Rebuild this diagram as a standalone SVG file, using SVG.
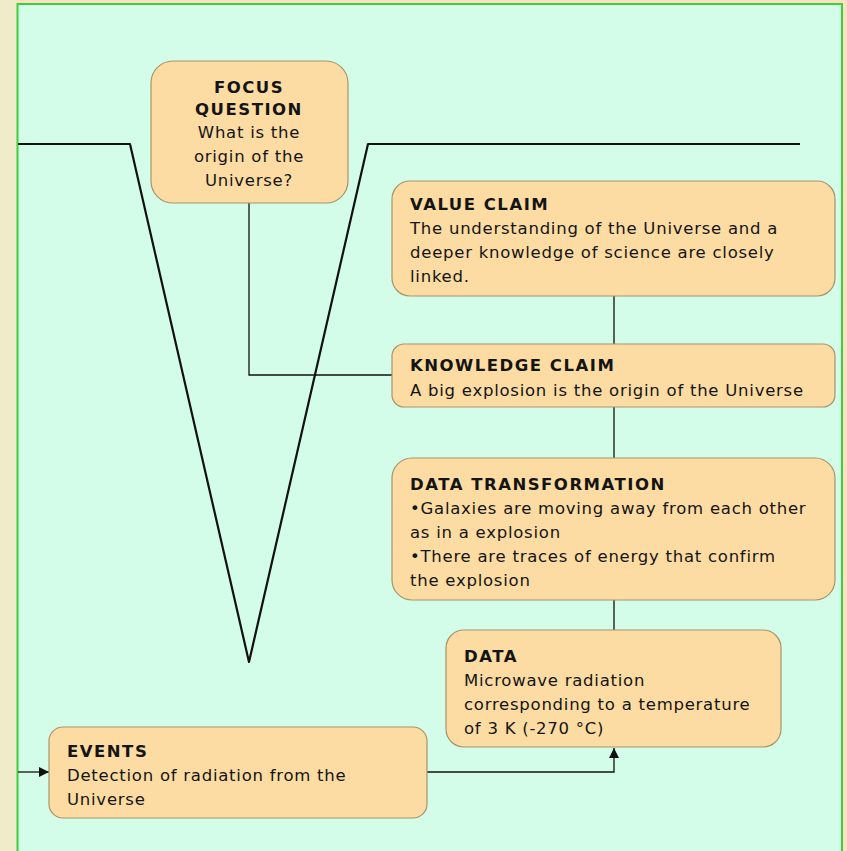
<svg xmlns="http://www.w3.org/2000/svg" width="847" height="851" viewBox="0 0 847 851">
  <defs>
    <marker id="arrow" viewBox="0 0 10 10" refX="10" refY="5" markerWidth="10" markerHeight="10" markerUnits="userSpaceOnUse" orient="auto">
      <path d="M0,0 L10,5 L0,10 z" fill="#111"/>
    </marker>
    <style>
      .node rect { fill: #fcdca2; stroke: #a8946a; stroke-width: 1.2; }
      .head { font-family: "DejaVu Sans", "Liberation Sans", sans-serif; font-weight: bold; font-size: 16.5px; letter-spacing: 1.5px; fill: #141414; }
      .body { font-family: "DejaVu Sans", "Liberation Sans", sans-serif; font-size: 16.5px; letter-spacing: 0.75px; fill: #141414; }
      .vee { fill: none; stroke: #111; stroke-width: 2.2; stroke-linejoin: round; }
      .link { fill: none; stroke: #111; stroke-width: 1.3; }
    </style>
  </defs>

  <!-- page surround -->
  <rect x="0" y="0" width="847" height="851" fill="#f0ecca"/>
  <rect x="17" y="0" width="830" height="4" fill="#fde0c0"/>
  <rect x="842" y="0" width="5" height="851" fill="#fde0c0"/>
  <!-- canvas -->
  <rect x="17.5" y="4" width="824.5" height="860" fill="#d4fde9" stroke="#3ccf3c" stroke-width="2"/>

  <!-- connectors -->
  <g id="connectors">
    <path class="vee" d="M18,144 L130,144 L249,662 L368,144 L800,144"/>
    <path class="link" d="M249,203 L249,375 L392,375"/>
    <path class="link" d="M614,296 L614,344"/>
    <path class="link" d="M614,407 L614,458"/>
    <path class="link" d="M614,600 L614,630"/>
    <path class="link" d="M18,772 L49,772" marker-end="url(#arrow)"/>
    <path class="link" d="M427,772 L614,772 L614,748" marker-end="url(#arrow)"/>
  </g>

  <g id="focus-question" class="node">
    <rect x="151" y="61" width="197" height="142" rx="22"/>
    <text class="head" x="249" y="93" text-anchor="middle">FOCUS</text>
    <text class="head" x="249" y="115" text-anchor="middle">QUESTION</text>
    <text class="body" x="249" y="138" text-anchor="middle">What is the</text>
    <text class="body" x="249" y="162" text-anchor="middle">origin of the</text>
    <text class="body" x="249" y="186" text-anchor="middle">Universe?</text>
  </g>

  <g id="value-claim" class="node">
    <rect x="392" y="181" width="443" height="115" rx="18"/>
    <text class="head" x="410" y="210">VALUE CLAIM</text>
    <text class="body" x="410" y="234">The understanding of the Universe and a</text>
    <text class="body" x="410" y="258">deeper knowledge of science are closely</text>
    <text class="body" x="410" y="282">linked.</text>
  </g>

  <g id="knowledge-claim" class="node">
    <rect x="392" y="344" width="443" height="63" rx="12"/>
    <text class="head" x="410" y="371">KNOWLEDGE CLAIM</text>
    <text class="body" x="410" y="396">A big explosion is the origin of the Universe</text>
  </g>

  <g id="data-transformation" class="node">
    <rect x="392" y="458" width="443" height="142" rx="20"/>
    <text class="head" x="410" y="490">DATA TRANSFORMATION</text>
    <text class="body" x="410" y="514">•Galaxies are moving away from each other</text>
    <text class="body" x="410" y="538">as in a explosion</text>
    <text class="body" x="410" y="562">•There are traces of energy that confirm</text>
    <text class="body" x="410" y="586">the explosion</text>
  </g>

  <g id="data" class="node">
    <rect x="446" y="630" width="335" height="117" rx="18"/>
    <text class="head" x="464" y="662">DATA</text>
    <text class="body" x="464" y="686">Microwave radiation</text>
    <text class="body" x="464" y="710">corresponding to a temperature</text>
    <text class="body" x="464" y="734">of 3 K (-270 °C)</text>
  </g>

  <g id="events" class="node">
    <rect x="49" y="727" width="378" height="91" rx="14"/>
    <text class="head" x="67" y="757">EVENTS</text>
    <text class="body" x="67" y="781">Detection of radiation from the</text>
    <text class="body" x="67" y="805">Universe</text>
  </g>
</svg>
